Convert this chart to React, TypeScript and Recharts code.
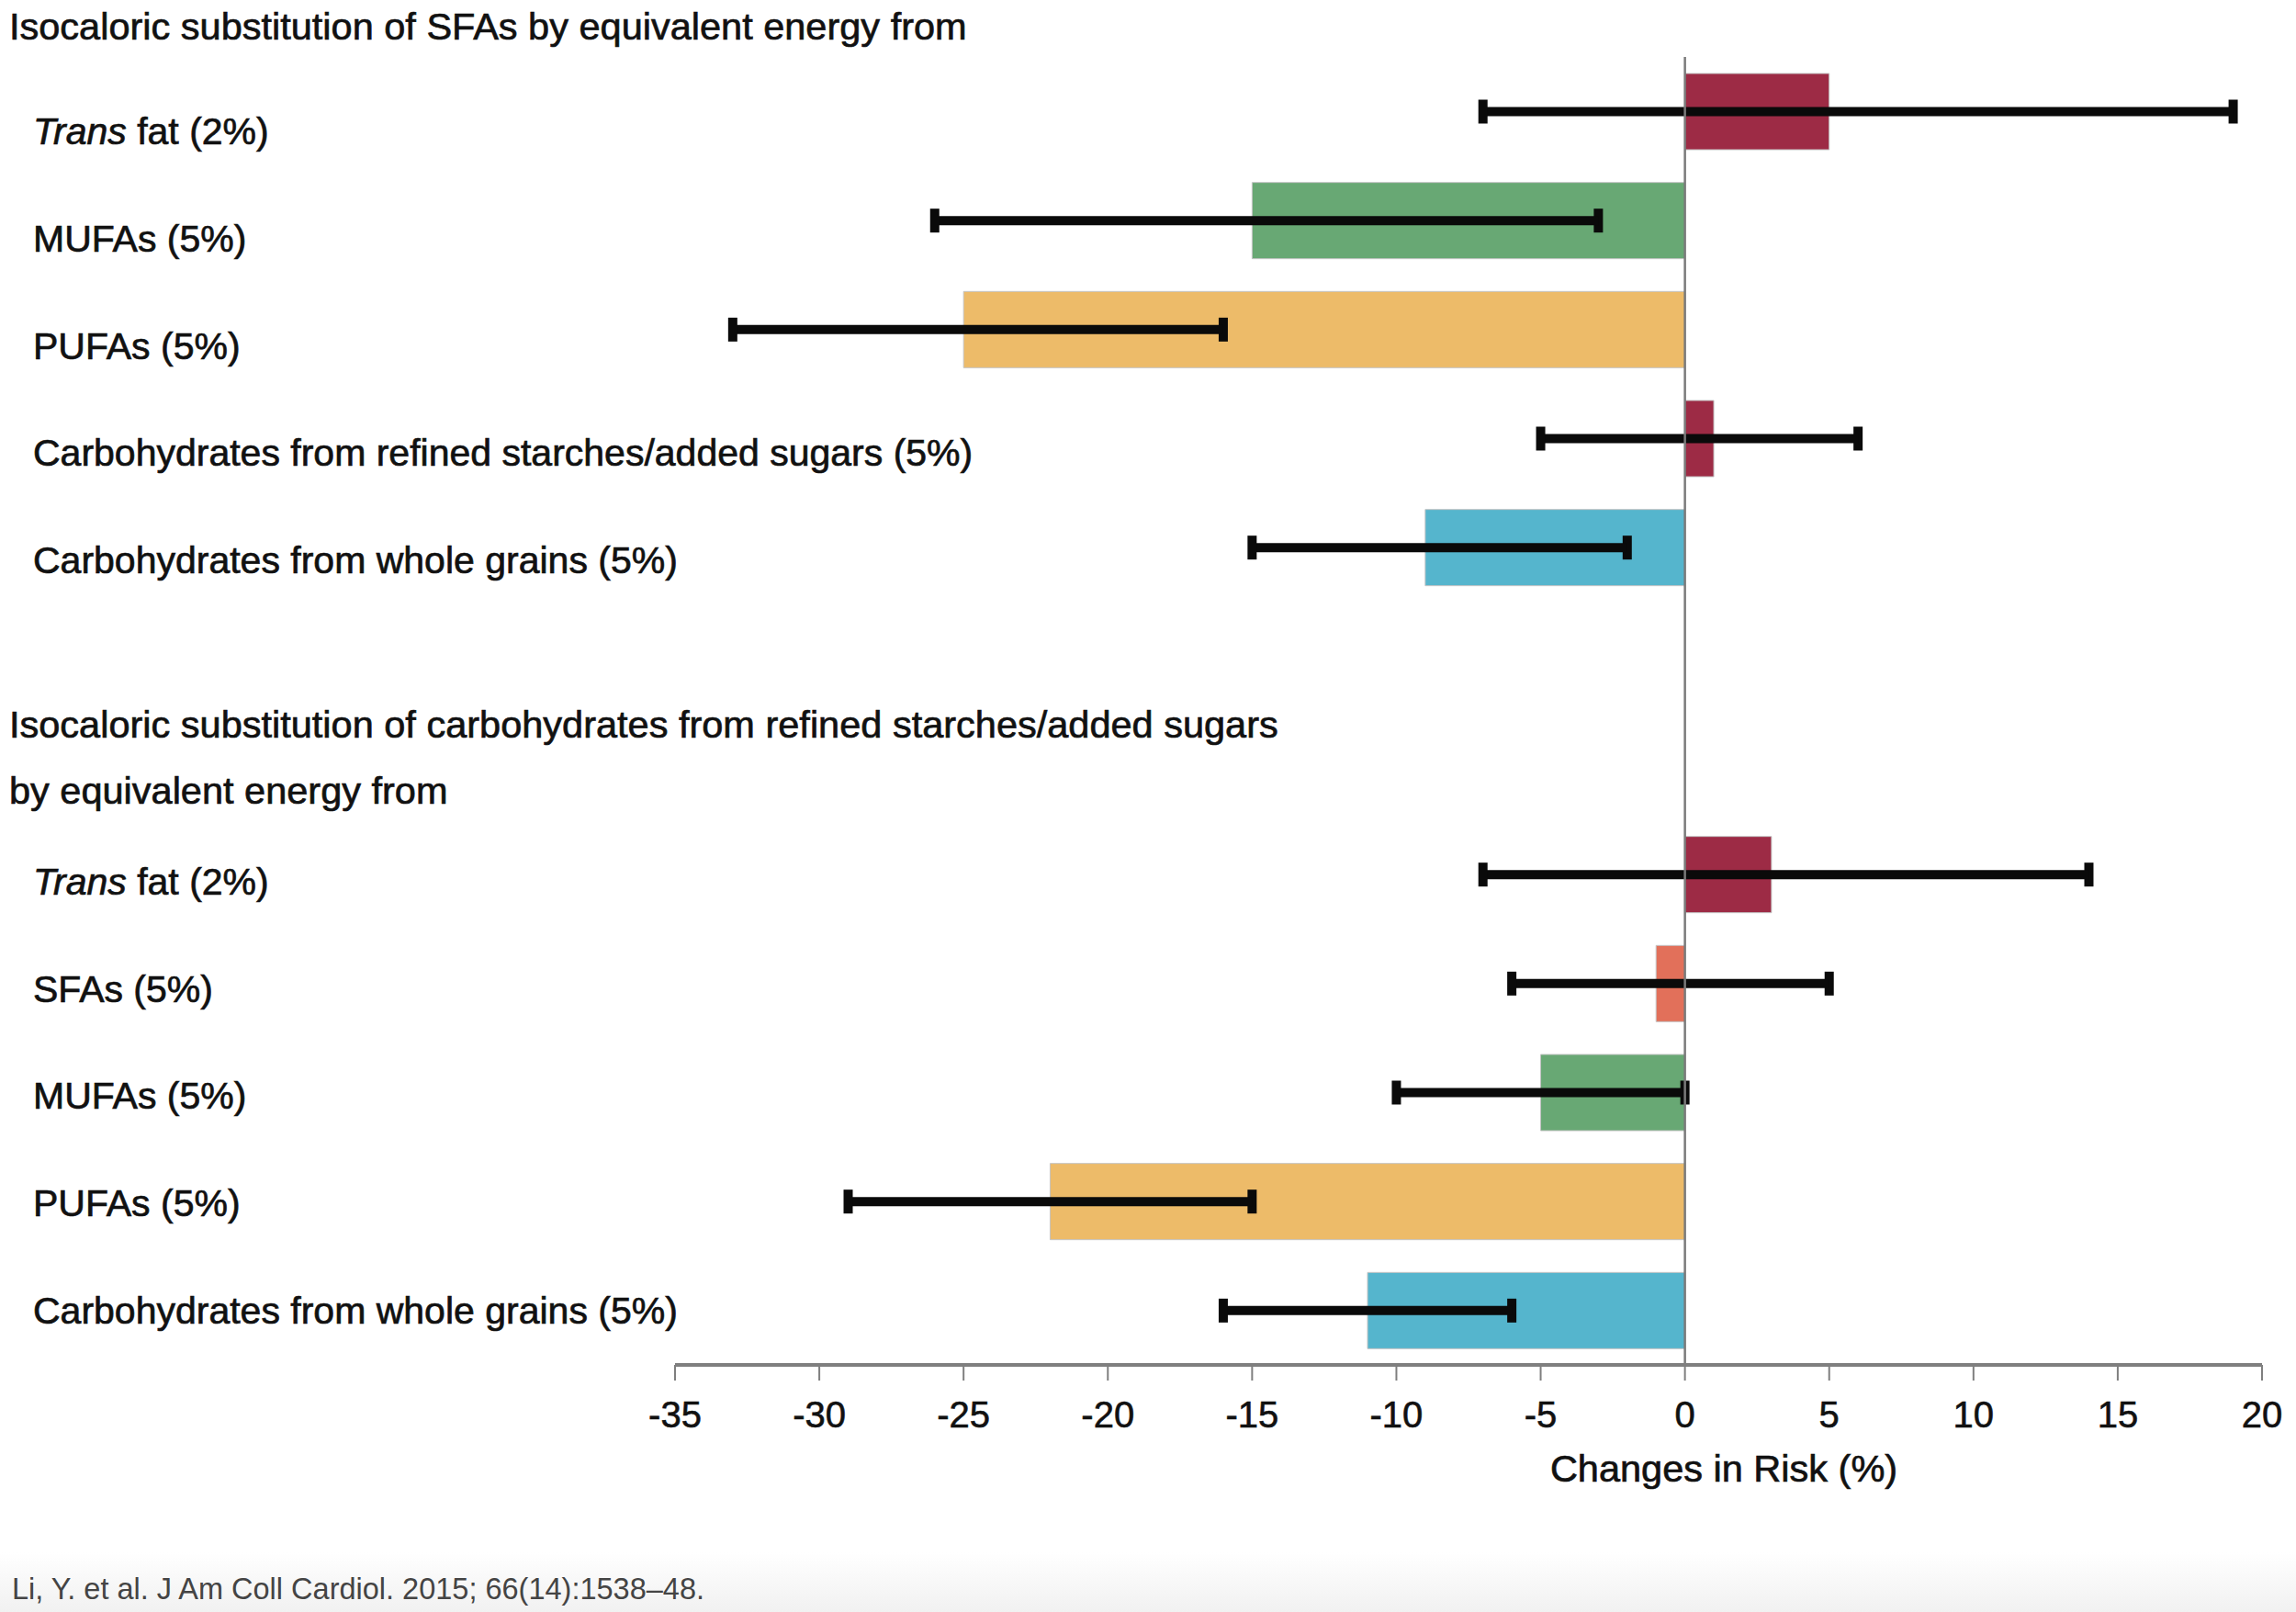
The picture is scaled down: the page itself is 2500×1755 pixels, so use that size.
import React from 'react';
import { BarChart, Bar, XAxis, YAxis, ErrorBar, Cell, ReferenceLine } from 'recharts';

// rows top to bottom; the two empty rows leave room for the second heading
const categories = [
  'Trans fat (2%)',
  'MUFAs (5%)',
  'PUFAs (5%)',
  'Carbohydrates from refined starches/added sugars (5%)',
  'Carbohydrates from whole grains (5%)',
  '',
  '',
  'Trans fat (2%)',
  'SFAs (5%)',
  'MUFAs (5%)',
  'PUFAs (5%)',
  'Carbohydrates from whole grains (5%)',
];
const estimates = [5, -15, -25, 1, -9, null, null, 3, -1, -5, -22, -11];
const ciLower = [-7, -26, -33, -5, -15, null, null, -7, -6, -10, -29, -16];
const ciUpper = [19, -3, -16, 6, -2, null, null, 14, 5, 0, -15, -6];
const xTicks = [-35, -30, -25, -20, -15, -10, -5, 0, 5, 10, 15, 20];

const headings = [
  'Isocaloric substitution of SFAs by equivalent energy from',
  'Isocaloric substitution of carbohydrates from refined starches/added sugars',
  'by equivalent energy from',
];
const axisTitle = 'Changes in Risk (%)';
const source = 'Li, Y. et al. J Am Coll Cardiol. 2015; 66(14):1538–48.';

const TRANS = '#9d2b45';
const MUFA = '#68a874';
const PUFA = '#edbb69';
const WHOLE = '#55b5cd';
const SFA = '#e2705a';
const barColors = [TRANS, MUFA, PUFA, TRANS, WHOLE, '#fff', '#fff', TRANS, SFA, MUFA, PUFA, WHOLE];

const FONT = "'Liberation Sans', Arial, sans-serif";
const INK = '#111';

const data = categories.map((name, i) => ({
  row: i,
  name,
  value: estimates[i],
  err: estimates[i] == null ? null : [estimates[i]! - ciLower[i]!, ciUpper[i]! - estimates[i]!],
}));

const RowLabel = (props: any) => {
  const { y, payload } = props;
  const idx = Number(payload.value);
  const label = categories[idx];
  if (!label) return null;
  // labels sit on a slightly tighter grid than the bars
  const dy = 14 + (categories.length - 1 - idx) * 2;
  const italicPrefix = label.startsWith('Trans ');
  return (
    <text
      x={36}
      y={y + dy}
      fontFamily={FONT}
      fontSize={41}
      fill={INK}
      stroke={INK}
      strokeWidth={0.7}
      textAnchor="start"
    >
      {italicPrefix ? (
        <>
          <tspan fontStyle="italic">Trans</tspan>
          <tspan>{label.slice(5)}</tspan>
        </>
      ) : (
        label
      )}
    </text>
  );
};

const textStyle: React.CSSProperties = {
  position: 'absolute',
  fontFamily: FONT,
  fontSize: 41.5,
  color: INK,
  whiteSpace: 'nowrap',
  lineHeight: '48px',
  WebkitTextStroke: '0.7px #111',
};

export default function App() {
  return (
    <div style={{ position: 'absolute', left: 0, top: 0, width: 2500, height: 1755, background: '#fff', overflow: 'hidden' }}>
      <div
        style={{
          position: 'absolute',
          left: 0,
          top: 1690,
          width: 2500,
          height: 65,
          background: 'linear-gradient(to bottom, #ffffff, #f1f1f1)',
        }}
      />
      <BarChart
        width={2500}
        height={1755}
        data={data}
        layout="vertical"
        margin={{ top: 62, right: 37, left: 0, bottom: 0 }}
        barSize={83}
      >
        <XAxis
          type="number"
          domain={[-35, 20]}
          ticks={xTicks}
          interval={0}
          height={269}
          tickSize={17}
          tickMargin={23}
          axisLine={{ stroke: '#7f7f7f', strokeWidth: 4 }}
          tickLine={{ stroke: '#7f7f7f', strokeWidth: 2 }}
          tick={{ fontFamily: FONT, fontSize: 40, fill: INK, stroke: INK, strokeWidth: 0.6 }}
        />
        <YAxis
          type="category"
          dataKey="row"
          width={735}
          interval={0}
          axisLine={false}
          tickLine={false}
          tick={<RowLabel />}
        />
        <Bar dataKey="value" isAnimationActive={false} stroke="#c4c4c4" strokeWidth={1}>
          {data.map((d, i) => (
            <Cell key={i} fill={barColors[i]} />
          ))}
          <ErrorBar dataKey="err" direction="x" stroke="#0a0a0a" strokeWidth={10} width={13} />
        </Bar>
        <ReferenceLine x={0} stroke="#7a7a7a" strokeWidth={2.5} />
      </BarChart>

      <div style={{ ...textStyle, left: 10, top: 5 }}>{headings[0]}</div>
      <div style={{ ...textStyle, left: 10, top: 765 }}>{headings[1]}</div>
      <div style={{ ...textStyle, left: 10, top: 837 }}>{headings[2]}</div>
      <div style={{ ...textStyle, left: 1877, top: 1575, transform: 'translateX(-50%)' }}>{axisTitle}</div>
      <div
        style={{
          ...textStyle,
          left: 13,
          top: 1711,
          fontSize: 32.5,
          lineHeight: '38px',
          color: '#444',
          WebkitTextStroke: '0px',
        }}
      >
        {source}
      </div>
    </div>
  );
}
